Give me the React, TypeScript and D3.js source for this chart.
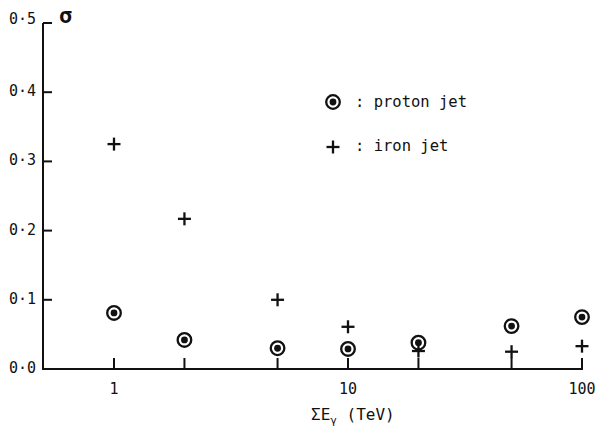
import React from "react";
import * as d3 from "d3";

const energies = [1, 2, 5, 10, 20, 50, 100];
const protonSigma = [0.081, 0.042, 0.030, 0.029, 0.038, 0.062, 0.075];
const ironSigma = [0.325, 0.217, 0.100, 0.061, 0.026, 0.025, 0.033];
const yTicks = [0, 0.1, 0.2, 0.3, 0.4, 0.5];
const yTickLabels = ["0·0", "0·1", "0·2", "0·3", "0·4", "0·5"];
const xTicks = [1, 2, 5, 10, 20, 50, 100];
const xTickLabels = ["1", "", "", "10", "", "", "100"];

const W = 596, H = 437;
const FONT = "'DejaVu Sans Mono', monospace";
const INK = "#111";

export default function App() {
  const y = d3.scaleLinear().domain([0, 0.5]).range([369, 23]);
  const xs = d3.scaleLog().domain([1, 10]).range([114, 348]);
  const X = (v: number) => xs(v);

  const circle = (cx: number, cy: number, k: string) => (
    <g key={k}>
      <circle cx={cx} cy={cy} r={6.8} fill="none" stroke={INK} strokeWidth={2.3} />
      <circle cx={cx} cy={cy} r={3.4} fill={INK} />
    </g>
  );
  const plus = (cx: number, cy: number, k: string) => (
    <g key={k} stroke={INK} strokeWidth={2.3}>
      <line x1={cx - 6.5} x2={cx + 6.5} y1={cy} y2={cy} />
      <line x1={cx} x2={cx} y1={cy - 6.5} y2={cy + 6.5} />
    </g>
  );

  return (
    <svg width={W} height={H} style={{ position: "absolute", left: 0, top: 0, background: "#fff" }}>
      <rect width={W} height={H} fill="#fff" />
      <line x1={43} x2={43} y1={23} y2={370} stroke={INK} strokeWidth={2} />
      <line x1={42} x2={X(100) + 1} y1={369} y2={369} stroke={INK} strokeWidth={2} />
      {yTicks.map((t, i) => (
        <g key={"yt" + i}>
          <line x1={43} x2={52} y1={y(t)} y2={y(t)} stroke={INK} strokeWidth={2} />
          <text x={36} y={y(t) + (i === 5 ? 1 : 4)} textAnchor="end" fontFamily={FONT} fontSize={15} fill={INK}>
            {yTickLabels[i]}
          </text>
        </g>
      ))}
      {xTicks.map((t, i) => (
        <g key={"xt" + i}>
          <line x1={X(t)} x2={X(t)} y1={369} y2={358} stroke={INK} strokeWidth={2} />
          {xTickLabels[i] && (
            <text x={X(t)} y={394} textAnchor="middle" fontFamily={FONT} fontSize={15} fill={INK}>
              {xTickLabels[i]}
            </text>
          )}
        </g>
      ))}
      <text x={59} y={23} fontFamily={FONT} fontSize={22} fontWeight="bold" fill={INK}>σ</text>
      <text x={311} y={420} fontFamily={FONT} fontSize={16} fill={INK}>
        ΣE<tspan dy={4} fontSize={11}>γ</tspan><tspan dy={-4}> (TeV)</tspan>
      </text>
      {energies.map((e, i) => circle(X(e), y(protonSigma[i]), "p" + i))}
      {energies.map((e, i) => plus(X(e), y(ironSigma[i]), "f" + i))}
      {circle(333, 102, "lc")}
      <text x={355} y={107} fontFamily={FONT} fontSize={15.5} fill={INK}>: proton jet</text>
      {plus(333, 147, "lp")}
      <text x={355} y={151} fontFamily={FONT} fontSize={15.5} fill={INK}>: iron jet</text>
    </svg>
  );
}
